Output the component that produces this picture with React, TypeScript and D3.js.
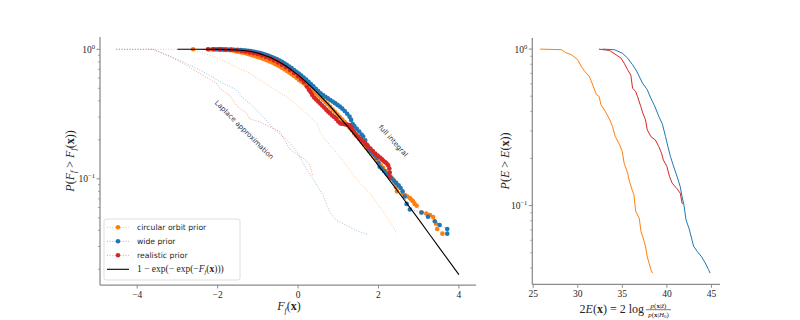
import React from 'react';
import * as d3 from 'd3';

// ---------------- Ticks ----------------
const xTicksLeft = [-4, -2, 0, 2, 4];
const xTicksRight = [25, 30, 35, 40, 45];
const yMajorTicks = [1, 0.1];
const yMinorTicks = [0.02, 0.03, 0.04, 0.05, 0.06, 0.07, 0.08, 0.09, 0.2, 0.3, 0.4, 0.5, 0.6, 0.7, 0.8, 0.9];

// ---------------- Left panel: Laplace approximation (light dotted) ----------------
const laplaceCircX = [-3.69, -2.65, -2.4, -2.1, -1.78, -1.5, -1.2, -0.95, -0.7, -0.29, 0.12, 0.46, 0.58, 0.8, 1.04, 1.29, 1.45, 1.62, 1.78, 1.99, 2.2, 2.36, 2.45];
const laplaceCircP = [1, 1, 0.94, 0.88, 0.8, 0.72, 0.653, 0.58, 0.515, 0.431, 0.34, 0.269, 0.22, 0.18, 0.149, 0.117, 0.1, 0.087, 0.078, 0.063, 0.051, 0.043, 0.0377];

const laplaceWideX = [-4.52, -3.61, -3.35, -2.86, -2.36, -1.87, -1.53, -1.37, -1.2, -0.87, -0.62, -0.37, -0.12, 0.04, 0.2, 0.37, 0.62, 0.79, 0.95, 1.12, 1.45, 1.74];
const laplaceWideP = [1, 1, 0.93, 0.8, 0.672, 0.547, 0.486, 0.419, 0.383, 0.302, 0.246, 0.212, 0.177, 0.149, 0.12, 0.1, 0.075, 0.055, 0.048, 0.045, 0.04, 0.037];

const laplaceRealX = [-4.52, -3.61, -3.19, -2.86, -2.45, -2.03, -1.95, -1.7, -1.5, -1.28, -1.2, -0.95, -0.62, -0.46, -0.3, -0.21, 0.04, 0.12, 0.29, 0.37];
const laplaceRealP = [1, 1, 0.877, 0.78, 0.653, 0.547, 0.5, 0.44, 0.36, 0.321, 0.29, 0.275, 0.245, 0.232, 0.19, 0.17, 0.149, 0.145, 0.13, 0.104];

// ---------------- Left panel: full integral (markers) ----------------
const fullCircX = [-2.61, -2.2, -2.05, -1.95, -1.85, -1.78, -1.7, -1.62, -1.55, -1.48, -1.42, -1.36, -1.3, -1.24, -1.18, -1.12, -1.06, -1.0, -0.94, -0.88, -0.82, -0.76, -0.7, -0.64, -0.58, -0.52, -0.46, -0.4, -0.34, -0.28, -0.22, -0.16, -0.1, -0.04, 0.02, 0.08, 0.14, 0.2, 0.26, 0.32, 0.38, 0.44, 0.5, 0.56, 0.62, 0.68, 0.74, 0.8, 0.86, 0.92, 0.98, 1.04, 1.1, 1.16, 1.22, 1.28, 1.34, 1.4, 1.46, 1.52, 1.58, 1.64, 1.7, 1.76, 1.82, 1.88, 1.94, 2.0, 2.06, 2.12, 2.18, 2.24, 2.3, 2.35, 2.39, 2.42, 2.44, 2.46, 2.6, 2.66, 2.72, 2.78, 2.82, 2.86, 2.9, 2.95, 3.07, 3.19, 3.28, 3.36, 3.43, 3.46, 3.59];
const fullCircP = [1, 0.997, 0.995, 0.992, 0.99, 0.987, 0.984, 0.978, 0.966, 0.958, 0.95, 0.94, 0.931, 0.92, 0.909, 0.896, 0.885, 0.873, 0.861, 0.848, 0.834, 0.82, 0.806, 0.79, 0.774, 0.757, 0.739, 0.721, 0.702, 0.682, 0.663, 0.643, 0.622, 0.602, 0.581, 0.564, 0.546, 0.528, 0.511, 0.493, 0.476, 0.458, 0.441, 0.424, 0.408, 0.391, 0.376, 0.36, 0.343, 0.328, 0.313, 0.3, 0.287, 0.274, 0.261, 0.248, 0.236, 0.224, 0.213, 0.203, 0.193, 0.183, 0.174, 0.165, 0.157, 0.149, 0.141, 0.134, 0.127, 0.121, 0.115, 0.109, 0.104, 0.1, 0.096, 0.092, 0.086, 0.08, 0.077, 0.075, 0.073, 0.071, 0.069, 0.067, 0.064, 0.062, 0.055, 0.054, 0.0525, 0.0506, 0.045, 0.041, 0.0377];

const fullWideX = [-2.12, -2.02, -1.95, -1.88, -1.8, -1.72, -1.65, -1.58, -1.5, -1.43, -1.36, -1.3, -1.24, -1.18, -1.12, -1.06, -1.0, -0.94, -0.88, -0.82, -0.76, -0.7, -0.64, -0.58, -0.52, -0.46, -0.4, -0.34, -0.28, -0.22, -0.16, -0.1, -0.04, 0.02, 0.08, 0.14, 0.2, 0.26, 0.32, 0.38, 0.44, 0.5, 0.56, 0.62, 0.68, 0.74, 0.8, 0.86, 0.92, 0.98, 1.04, 1.1, 1.16, 1.22, 1.28, 1.32, 1.36, 1.4, 1.46, 1.52, 1.58, 1.62, 1.67, 1.72, 1.76, 1.8, 1.86, 1.92, 1.96, 2.0, 2.03, 2.08, 2.14, 2.2, 2.26, 2.32, 2.38, 2.44, 2.5, 2.55, 2.6, 2.65, 2.7, 2.78, 3.07, 3.23, 3.4, 3.52, 3.71, 3.71];
const fullWideP = [1, 1, 0.999, 0.998, 0.997, 0.996, 0.995, 0.993, 0.99, 0.987, 0.983, 0.979, 0.974, 0.968, 0.961, 0.953, 0.944, 0.934, 0.923, 0.911, 0.898, 0.884, 0.869, 0.853, 0.836, 0.818, 0.799, 0.779, 0.758, 0.737, 0.715, 0.693, 0.671, 0.649, 0.627, 0.605, 0.583, 0.561, 0.539, 0.517, 0.496, 0.476, 0.458, 0.443, 0.43, 0.418, 0.406, 0.395, 0.384, 0.372, 0.361, 0.348, 0.334, 0.318, 0.302, 0.285, 0.265, 0.255, 0.243, 0.232, 0.22, 0.212, 0.198, 0.182, 0.17, 0.165, 0.158, 0.152, 0.145, 0.133, 0.124, 0.12, 0.115, 0.11, 0.105, 0.101, 0.097, 0.093, 0.089, 0.085, 0.08, 0.073, 0.064, 0.058, 0.055, 0.051, 0.047, 0.044, 0.041, 0.0377];

const fullRealX = [-2.24, -2.1, -1.94, -1.8, -1.66, -1.52, -1.4, -1.3, -1.2, -1.1, -1.0, -0.9, -0.8, -0.7, -0.6, -0.5, -0.4, -0.3, -0.2, -0.1, 0.0, 0.08, 0.15, 0.22, 0.27, 0.31, 0.35, 0.4, 0.45, 0.5, 0.55, 0.6, 0.65, 0.7, 0.75, 0.8, 0.85, 0.9, 0.95, 1.0, 1.05, 1.1, 1.16, 1.22, 1.28, 1.32, 1.36, 1.4, 1.45, 1.5, 1.56, 1.62, 1.68, 1.74, 1.8, 1.86, 1.92, 1.98, 2.04, 2.08, 2.12, 2.16, 2.2, 2.24, 2.27, 2.28, 2.28];
const fullRealP = [1, 1, 0.999, 0.996, 0.991, 0.982, 0.971, 0.96, 0.946, 0.932, 0.915, 0.896, 0.874, 0.849, 0.822, 0.792, 0.76, 0.726, 0.691, 0.656, 0.619, 0.588, 0.558, 0.515, 0.488, 0.468, 0.445, 0.425, 0.41, 0.396, 0.382, 0.368, 0.355, 0.342, 0.33, 0.32, 0.308, 0.3, 0.29, 0.277, 0.268, 0.266, 0.264, 0.262, 0.26, 0.25, 0.238, 0.228, 0.218, 0.21, 0.203, 0.194, 0.186, 0.178, 0.171, 0.164, 0.157, 0.151, 0.146, 0.142, 0.138, 0.135, 0.132, 0.127, 0.12, 0.112, 0.104];

// Reference curve 1 - exp(-exp(-F)), tabulated
const gumbelX = [-3, -2.5, -2, -1.5, -1.25, -1, -0.875, -0.75, -0.625, -0.5, -0.375, -0.25, -0.125, 0, 0.125, 0.25, 0.375, 0.5, 0.75, 1, 1.25, 1.5, 1.75, 2, 2.5, 3, 3.5, 4];
const gumbelP = [1, 1, 0.9994, 0.9887, 0.9695, 0.934, 0.9092, 0.8796, 0.8456, 0.8077, 0.7666, 0.7231, 0.6779, 0.6321, 0.5863, 0.541, 0.4971, 0.4547, 0.3765, 0.3078, 0.2491, 0.2, 0.1595, 0.1266, 0.0788, 0.0486, 0.0297, 0.0182];

// ---------------- Right panel ----------------
const rightCircE = [25.78, 28.2, 28.6, 29.3, 30.0, 30.4, 30.8, 31.3, 31.6, 32.1, 32.4, 32.6, 33.1, 33.6, 33.9, 34.2, 34.7, 35.0, 35.2, 35.6, 35.8, 36.1, 36.3, 36.5, 36.9, 37.1, 37.3, 37.6, 37.8, 38.0, 38.2, 38.4];
const rightCircP = [1, 0.991, 0.953, 0.92, 0.855, 0.774, 0.719, 0.668, 0.607, 0.511, 0.498, 0.441, 0.399, 0.353, 0.32, 0.277, 0.244, 0.221, 0.187, 0.161, 0.143, 0.126, 0.117, 0.092, 0.083, 0.068, 0.063, 0.055, 0.047, 0.043, 0.039, 0.037];

const rightRealE = [32.37, 33.56, 34.3, 34.85, 35.2, 35.6, 35.96, 36.15, 36.5, 36.7, 37.07, 37.3, 37.6, 37.8, 38.2, 38.7, 39.1, 39.4, 39.6, 40.0, 40.3, 40.6, 41.1, 41.5, 41.7, 41.8];
const rightRealP = [1, 0.98, 0.92, 0.876, 0.814, 0.738, 0.68, 0.563, 0.536, 0.498, 0.43, 0.39, 0.353, 0.305, 0.276, 0.263, 0.238, 0.216, 0.196, 0.178, 0.153, 0.139, 0.129, 0.12, 0.104, 0.102];

const rightWideE = [32.8, 34.1, 35.0, 35.6, 36.15, 36.6, 37.26, 37.8, 38.19, 38.6, 39.1, 39.5, 39.85, 40.1, 40.4, 40.7, 41.15, 41.5, 41.7, 41.9, 42.15, 42.5, 43.0, 43.4, 43.9, 44.3, 44.67, 44.85];
const rightWideP = [1, 0.991, 0.942, 0.875, 0.794, 0.724, 0.607, 0.55, 0.486, 0.437, 0.371, 0.331, 0.276, 0.24, 0.206, 0.182, 0.153, 0.132, 0.114, 0.102, 0.081, 0.071, 0.055, 0.051, 0.047, 0.043, 0.039, 0.037];

const legendLabels = ['circular orbit prior', 'wide prior', 'realistic prior'];

const ORANGE = '#ff7f0e';
const BLUE = '#1f77b4';
const RED = '#d62728';
const SERIF = "'Liberation Serif', 'DejaVu Serif', serif";
const SANS = "'DejaVu Sans', sans-serif";
const SPINE = '#8a8a8a';
const TXT = '#262626';

type Pt = [number, number];
const zip = (xs: number[], ps: number[]): Pt[] => xs.map((x, i) => [x, ps[i]] as Pt);
const fmt = (v: number) => (v < 0 ? '\u2212' + Math.abs(v) : String(v));

function LogYAxis({ y, x0, majors, minors, exps }: any) {
  const [lo, hi] = y.domain();
  return (
    <g>
      {minors.filter((v: number) => v >= lo && v <= hi).map((v: number) => (
        <line key={'m' + v} x1={x0 - 2} x2={x0} y1={y(v)} y2={y(v)} stroke={SPINE} strokeWidth={0.8} />
      ))}
      {majors.map((v: number, i: number) => (
        <g key={'M' + v}>
          <line x1={x0 - 3.5} x2={x0} y1={y(v)} y2={y(v)} stroke={SPINE} strokeWidth={1} />
          <text x={x0 - 5} y={y(v) + 3.5} textAnchor="end" fontFamily={SERIF} fontSize={9.5} fill={TXT}>
            10<tspan dy={-4} fontSize={6.5}>{exps[i]}</tspan>
          </text>
        </g>
      ))}
    </g>
  );
}

export default function App() {
  const L = { x0: 100, x1: 476, y0: 37, y1: 285 };
  const R = { x0: 532.3, x1: 720, y0: 37.9, y1: 284.3 };

  const xL = d3.scaleLinear().domain([-4.925, 4.425]).range([L.x0, L.x1]);
  const yL = d3.scaleLog().domain([Math.pow(10, -1.82), Math.pow(10, 0.095)]).range([L.y1, L.y0]);
  const xR = d3.scaleLinear().domain([24.9, 45.96]).range([R.x0, R.x1]);
  const yR = d3.scaleLog().domain([Math.pow(10, -1.503), Math.pow(10, 0.0716)]).range([R.y1, R.y0]);

  const lineL = d3.line<Pt>().x(d => xL(d[0])).y(d => yL(d[1]));
  const smoothL = d3.line<Pt>().x(d => xL(d[0])).y(d => yL(d[1])).curve(d3.curveMonotoneX);
  const lineR = d3.line<Pt>().x(d => xR(d[0])).y(d => yR(d[1]));

  const laplace = [
    { d: zip(laplaceCircX, laplaceCircP), c: ORANGE },
    { d: zip(laplaceWideX, laplaceWideP), c: BLUE },
    { d: zip(laplaceRealX, laplaceRealP), c: RED },
  ];
  const full = [
    { d: zip(fullCircX, fullCircP), c: ORANGE },
    { d: zip(fullWideX, fullWideP), c: BLUE },
    { d: zip(fullRealX, fullRealP), c: RED },
  ];
  const right = [
    { d: zip(rightCircE, rightCircP), c: ORANGE },
    { d: zip(rightWideE, rightWideP), c: BLUE },
    { d: zip(rightRealE, rightRealP), c: RED },
  ];
  const colors = [ORANGE, BLUE, RED];
  const dash = '1,1.65';
  const legY = [227.3, 241.3, 255.3, 269.3];

  return (
    <svg width={800} height={320} style={{ position: 'absolute', left: 0, top: 0, background: '#fff' }}>
      <rect x={0} y={0} width={800} height={320} fill="#fff" />
      {/* ---------- Left panel ---------- */}
      {laplace.map((s, i) => (
        <path key={'lap' + i} d={lineL(s.d) || ''} fill="none" stroke={s.c} strokeOpacity={0.45} strokeWidth={1} strokeDasharray={dash} />
      ))}
      {full.map((s, i) => (
        <g key={'full' + i}>
          <path d={lineL(s.d) || ''} fill="none" stroke={s.c} strokeOpacity={0.5} strokeWidth={1} strokeDasharray={dash} />
          {s.d.map((p, j) => (
            <circle key={j} cx={xL(p[0])} cy={yL(p[1])} r={2.3} fill={s.c} />
          ))}
        </g>
      ))}
      <path d={smoothL(zip(gumbelX, gumbelP)) || ''} fill="none" stroke="#000" strokeWidth={1.1} />

      {/* annotations */}
      <text transform={`translate(244,130) rotate(45)`} textAnchor="middle" dominantBaseline="central" fontFamily={SANS} fontSize={7} fill="#333">Laplace approximation</text>
      <text transform={`translate(393,141) rotate(48)`} textAnchor="middle" dominantBaseline="central" fontFamily={SANS} fontSize={7} fill="#333">full integral</text>

      {/* legend */}
      <rect x={104} y={219} width={136} height={61} rx={2} fill="#fff" fillOpacity={0.8} stroke="#d5d5d5" strokeWidth={0.8} />
      {legendLabels.map((lab, i) => (
        <g key={'leg' + i}>
          <line x1={107} x2={129} y1={legY[i]} y2={legY[i]} stroke={colors[i]} strokeOpacity={0.5} strokeWidth={1} strokeDasharray={dash} />
          <circle cx={118} cy={legY[i]} r={2.3} fill={colors[i]} />
          <text x={137} y={legY[i]} dominantBaseline="central" fontFamily={SANS} fontSize={7.7} fill={TXT}>{lab}</text>
        </g>
      ))}
      <line x1={107} x2={129} y1={legY[3]} y2={legY[3]} stroke="#000" strokeWidth={1.1} />
      <text x={137} y={legY[3] + 3} fontFamily={SERIF} fontSize={9.5} fill={TXT}>
        1 − exp(− exp(−<tspan fontStyle="italic">F</tspan><tspan fontStyle="italic" fontSize={6.5} dy={2}>f</tspan><tspan dy={-2}>(</tspan><tspan fontWeight="bold">x</tspan>)))
      </text>

      {/* spines */}
      <line x1={L.x0} x2={L.x0} y1={L.y0} y2={L.y1} stroke={SPINE} strokeWidth={1.25} />
      <line x1={L.x0} x2={L.x1} y1={L.y1} y2={L.y1} stroke={SPINE} strokeWidth={1.25} />
      {xTicksLeft.map(v => (
        <g key={'xl' + v}>
          <line x1={xL(v)} x2={xL(v)} y1={L.y1} y2={L.y1 + 3.5} stroke={SPINE} strokeWidth={1} />
          <text x={xL(v)} y={L.y1 + 13} textAnchor="middle" fontFamily={SERIF} fontSize={9.5} fill={TXT}>{fmt(v)}</text>
        </g>
      ))}
      <LogYAxis y={yL} x0={L.x0} majors={yMajorTicks} minors={yMinorTicks} exps={['0', '\u22121']} />
      <text x={289} y={310} textAnchor="middle" fontFamily={SERIF} fontSize={12} fill={TXT}>
        <tspan fontStyle="italic">F</tspan><tspan fontStyle="italic" fontSize={8} dy={2.5}>f</tspan><tspan dy={-2.5}>(</tspan><tspan fontWeight="bold">x</tspan>)
      </text>
      <text transform="translate(70,161) rotate(-90)" textAnchor="middle" dominantBaseline="central" fontFamily={SERIF} fontSize={12} fill={TXT}>
        <tspan fontStyle="italic">P</tspan>(<tspan fontStyle="italic">F</tspan><tspan fontStyle="italic" fontSize={8} dy={2.5}>f</tspan><tspan dy={-2.5}> &gt; </tspan><tspan fontStyle="italic">F</tspan><tspan fontStyle="italic" fontSize={8} dy={2.5}>f</tspan><tspan dy={-2.5}>(</tspan><tspan fontWeight="bold">x</tspan>))
      </text>

      {/* ---------- Right panel ---------- */}
      {right.map((s, i) => (
        <path key={'r' + i} d={lineR(s.d) || ''} fill="none" stroke={s.c} strokeWidth={1} />
      ))}
      <line x1={R.x0} x2={R.x0} y1={R.y0} y2={R.y1} stroke={SPINE} strokeWidth={1.25} />
      <line x1={R.x0} x2={R.x1} y1={R.y1} y2={R.y1} stroke={SPINE} strokeWidth={1.25} />
      {xTicksRight.map(v => (
        <g key={'xr' + v}>
          <line x1={xR(v)} x2={xR(v)} y1={R.y1} y2={R.y1 + 3.5} stroke={SPINE} strokeWidth={1} />
          <text x={xR(v)} y={R.y1 + 13} textAnchor="middle" fontFamily={SERIF} fontSize={9.5} fill={TXT}>{fmt(v)}</text>
        </g>
      ))}
      <LogYAxis y={yR} x0={R.x0} majors={yMajorTicks} minors={yMinorTicks} exps={['0', '\u22121']} />
      <text transform="translate(505,161) rotate(-90)" textAnchor="middle" dominantBaseline="central" fontFamily={SERIF} fontSize={12} fill={TXT}>
        <tspan fontStyle="italic">P</tspan>(<tspan fontStyle="italic">E</tspan> &gt; <tspan fontStyle="italic">E</tspan>(<tspan fontWeight="bold">x</tspan>))
      </text>
      <text x={644} y={313} textAnchor="end" fontFamily={SERIF} fontSize={12} fill={TXT}>
        2<tspan fontStyle="italic">E</tspan>(<tspan fontWeight="bold">x</tspan>) = 2 log
      </text>
      <text x={658.5} y={307.5} textAnchor="middle" fontFamily={SERIF} fontSize={7} fill={TXT}>
        <tspan fontStyle="italic">p</tspan>(<tspan fontWeight="bold">x</tspan>|<tspan fontStyle="italic">ẑ</tspan>)
      </text>
      <line x1={646} x2={671} y1={309.7} y2={309.7} stroke={TXT} strokeWidth={0.6} />
      <text x={658.5} y={316.5} textAnchor="middle" fontFamily={SERIF} fontSize={7} fill={TXT}>
        <tspan fontStyle="italic">p</tspan>(<tspan fontWeight="bold">x</tspan>|<tspan fontStyle="italic">H</tspan><tspan fontSize={5} dy={1.5}>0</tspan><tspan dy={-1.5}>)</tspan>
      </text>
    </svg>
  );
}
